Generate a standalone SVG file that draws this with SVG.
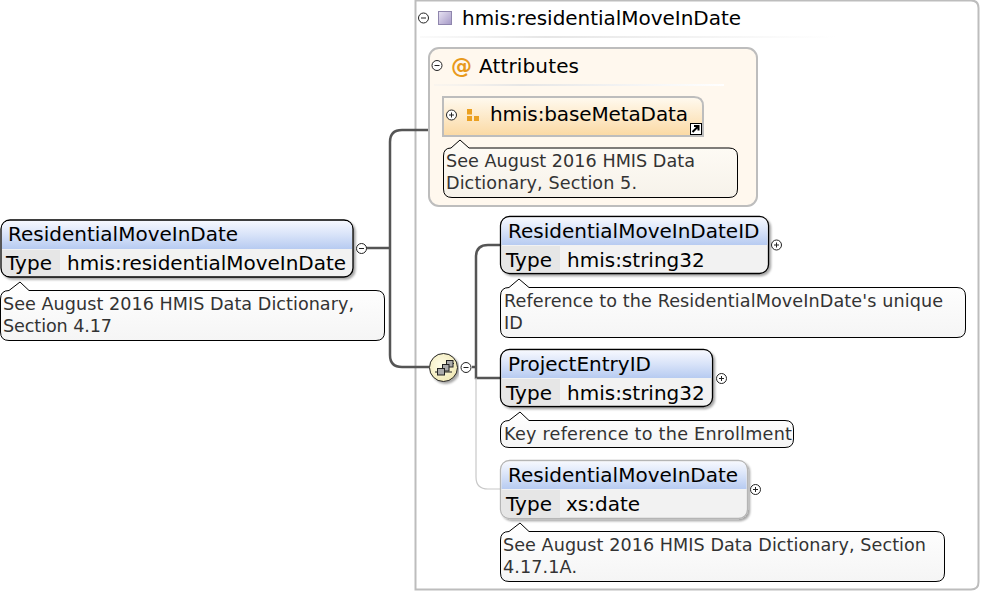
<svg xmlns="http://www.w3.org/2000/svg" width="981" height="592" viewBox="0 0 981 592">
<style>
text{font-family:"DejaVu Sans",sans-serif;white-space:pre}
.n{font-size:20px;fill:#000}
.note{font-size:17.6px;fill:#333}
.nb{fill:#fff;stroke:#000;stroke-width:1}
.con{fill:none;stroke:#555;stroke-width:2.5}
.t{fill:none;stroke:#222;stroke-width:1}
.tf{fill:#fff;stroke:#222;stroke-width:1}
</style>
<defs>
<linearGradient id="head" x1="0" y1="0" x2="0" y2="1"><stop offset="0" stop-color="#f6f8fe"/><stop offset="0.45" stop-color="#dbe5f9"/><stop offset="1" stop-color="#b7cbf1"/></linearGradient>
<linearGradient id="note" x1="0" y1="0" x2="0" y2="1"><stop offset="0" stop-color="#fff"/><stop offset="1" stop-color="#f5f5f5"/></linearGradient>
<linearGradient id="note2" x1="0" y1="0" x2="0" y2="1"><stop offset="0" stop-color="#fffcf6"/><stop offset="1" stop-color="#f6f2ea"/></linearGradient>
<linearGradient id="orange" x1="0" y1="0" x2="0" y2="1"><stop offset="0" stop-color="#fffaf0"/><stop offset="1" stop-color="#fbd9a3"/></linearGradient>
<linearGradient id="rule" x1="0" y1="0" x2="1" y2="0"><stop offset="0" stop-color="#eee" stop-opacity="0.3"/><stop offset="0.3" stop-color="#e6e6e6"/><stop offset="1" stop-color="#fff"/></linearGradient>
<linearGradient id="sq" x1="0" y1="0" x2="1" y2="1"><stop offset="0" stop-color="#e9e4f3"/><stop offset="1" stop-color="#a498c6"/></linearGradient>
<radialGradient id="comp" cx="0.4" cy="0.4" r="0.7"><stop offset="0" stop-color="#fffde8"/><stop offset="1" stop-color="#efe6b0"/></radialGradient>
<filter id="sh" x="-5%" y="-10%" width="110%" height="125%"><feDropShadow dx="2" dy="2" stdDeviation="1.2" flood-color="#000" flood-opacity="0.35"/></filter>
<g id="minus"><circle r="5" class="tf"/><path d="M-2.500 0H2.500" class="t"/></g>
<g id="plus"><circle r="5" class="tf"/><path d="M-2.500 0H2.500M0-2.500V2.500" class="t"/></g>
</defs>

<g id="frame">
<path d="M415.500 0.500H971Q978.500 0.500 978.500 8V582Q978.500 589.500 971 589.500H415.500Z" fill="#fff" stroke="#bdbdbd" stroke-width="2"/>
</g>

<g id="connectors">
<path class="con" d="M366 248H390"/>
<path class="con" d="M429 130H402Q390 130 390 142V355Q390 367 402 367H429"/>
<path class="con" d="M472 367H476"/>
<path class="con" d="M500 245H488Q476 245 476 257V378H500"/>
<path d="M476 378V477Q476 489 488 489H500" fill="none" stroke="#c8c8c8" stroke-width="1.2"/>
</g>

<g id="type-header">
<use href="#minus" x="423.500" y="18"/>
<rect x="438.500" y="11.500" width="13" height="13" fill="url(#sq)" stroke="#8f86ad"/>
<text class="n" x="462" y="24.500" textLength="279">hmis:residentialMoveInDate</text>
<rect x="420" y="36" width="415" height="2" fill="url(#rule)"/>
</g>

<g id="attributes">
<rect x="429" y="48" width="328" height="158" rx="10" fill="#fff8ee" stroke="#bdbdbd" stroke-width="2"/>
<use href="#minus" x="437" y="65.500"/>
<text x="451" y="72.500" font-size="21" font-weight="bold" fill="#e89a1c">@</text>
<text class="n" x="479" y="72.500" textLength="100">Attributes</text>
<rect x="434" y="84" width="290" height="2" fill="url(#rule)"/>
</g>

<g id="baseMetaData">
<path d="M443 97H694Q703 97 703 106V136H443Z" fill="url(#orange)" stroke="#bdbdbd" stroke-width="2"/>
<use href="#plus" x="451.500" y="115"/>
<rect x="467" y="109" width="5" height="5.500" fill="#eba020"/><rect x="467" y="116" width="5" height="5" fill="#eba020"/><rect x="474" y="116" width="5" height="5" fill="#eba020"/>
<text class="n" x="490" y="121" textLength="198">hmis:baseMetaData</text>
<rect x="690.500" y="123.500" width="11" height="11" fill="#fff" stroke="#000"/>
<path d="M692.500 132L698 126.500M694 126H698.500V130.500" fill="none" stroke="#000" stroke-width="2"/>
<path class="nb" style="fill:url(#note2)" d="M451 148L460 140L469 148H729Q737.500 148 737.500 156V189Q737.500 197.500 729 197.500H452Q443.500 197.500 443.500 189V156Q443.500 148 451 148Z"/>
<text class="note" x="446" y="167" textLength="249">See August 2016 HMIS Data</text>
<text class="note" x="446" y="189" textLength="191">Dictionary, Section 5.</text>
</g>

<g id="root-element">
<g filter="url(#sh)"><rect x="1" y="220" width="352" height="57" rx="9" fill="#f2f2f2" stroke="#000" stroke-width="1.300"/></g>
<path d="M2 249V229Q2 221 10 221H344Q352 221 352 229V249Z" fill="url(#head)"/>
<path d="M2 250H60V276H10Q2 276 2 268Z" fill="#e6e6e6"/>
<text class="n" x="8" y="241">ResidentialMoveInDate</text>
<text class="n" x="6" y="270">Type</text>
<text class="n" x="67" y="270" textLength="279">hmis:residentialMoveInDate</text>
<use href="#minus" x="361.500" y="248.500"/>
<path class="nb" style="fill:url(#note)" d="M9 290.500L20 282L29 290.500H376Q384.500 290.500 384.500 299V332Q384.500 340.500 376 340.500H9Q0.500 340.500 0.500 332V299Q0.500 290.500 9 290.500Z"/>
<text class="note" x="3" y="310" textLength="351">See August 2016 HMIS Data Dictionary,</text>
<text class="note" x="3" y="332" textLength="109">Section 4.17</text>
</g>

<g id="sequence">
<circle cx="443.500" cy="367.500" r="14" fill="url(#comp)" stroke="#222" stroke-width="1" filter="url(#sh)"/>
<path d="M435 372H452M446 363.500H454" stroke="#222" stroke-width="1" fill="none"/>
<rect x="446.500" y="360.500" width="6.500" height="6.500" fill="#aaa" stroke="#222"/><rect x="442.500" y="364.500" width="6.500" height="6.500" fill="#aaa" stroke="#222"/><rect x="437.500" y="368.500" width="7" height="6.500" fill="#aaa" stroke="#222"/>
<use href="#minus" x="466" y="367.500"/>
</g>

<g id="ResidentialMoveInDateID">
<g filter="url(#sh)"><rect x="500.500" y="216.500" width="268" height="57" rx="9" fill="#f2f2f2" stroke="#000" stroke-width="1.300"/></g>
<path d="M501.500 245V226Q501.500 217.500 510 217.500H760Q767.500 217.500 767.500 226V245Z" fill="url(#head)"/>
<path d="M501.500 246H560V272.500H510Q501.500 272.500 501.500 264Z" fill="#e6e6e6"/>
<text class="n" x="508" y="238">ResidentialMoveInDateID</text>
<text class="n" x="506" y="267">Type</text>
<text class="n" x="567" y="267">hmis:string32</text>
<use href="#plus" x="776.500" y="245"/>
<path class="nb" style="fill:url(#note)" d="M509 287.500L519 279L529 287.500H957Q965.500 287.500 965.500 296V329Q965.500 337.500 957 337.500H509Q500.500 337.500 500.500 329V296Q500.500 287.500 509 287.500Z"/>
<text class="note" x="504" y="307" textLength="439">Reference to the ResidentialMoveInDate's unique</text>
<text class="note" x="504" y="329">ID</text>
</g>

<g id="ProjectEntryID">
<g filter="url(#sh)"><rect x="500.500" y="349.500" width="212" height="57" rx="9" fill="#f2f2f2" stroke="#000" stroke-width="1.300"/></g>
<path d="M501.500 378V359Q501.500 350.500 510 350.500H704Q711.500 350.500 711.500 359V378Z" fill="url(#head)"/>
<path d="M501.500 379H560V405.500H510Q501.500 405.500 501.500 397Z" fill="#e6e6e6"/>
<text class="n" x="508" y="371">ProjectEntryID</text>
<text class="n" x="506" y="400">Type</text>
<text class="n" x="567" y="400">hmis:string32</text>
<use href="#plus" x="721.500" y="378.500"/>
<path class="nb" style="fill:url(#note)" d="M509 420.500L520 412L529 420.500H785Q793.500 420.500 793.500 429V439Q793.500 447.500 785 447.500H509Q500.500 447.500 500.500 439V429Q500.500 420.500 509 420.500Z"/>
<text class="note" x="504" y="440" textLength="288">Key reference to the Enrollment</text>
</g>

<g id="ResidentialMoveInDate-child">
<g filter="url(#sh)"><rect x="500.500" y="460.500" width="247" height="58" rx="9" fill="#f2f2f2" stroke="#b5b5b5" stroke-width="1.300"/></g>
<path d="M501.500 489V470Q501.500 461.500 510 461.500H739Q746.500 461.500 746.500 470V489Z" fill="url(#head)"/>
<path d="M501.500 490H560V517.500H510Q501.500 517.500 501.500 509Z" fill="#e6e6e6"/>
<text class="n" x="508" y="482">ResidentialMoveInDate</text>
<text class="n" x="506" y="511">Type</text>
<text class="n" x="566" y="511">xs:date</text>
<use href="#plus" x="755.500" y="489.500"/>
<path class="nb" style="fill:url(#note)" d="M509 531.500L520 523L529 531.500H936Q944.500 531.500 944.500 540V573Q944.500 581.500 936 581.500H509Q500.500 581.500 500.500 573V540Q500.500 531.500 509 531.500Z"/>
<text class="note" x="503" y="551" textLength="423">See August 2016 HMIS Data Dictionary, Section</text>
<text class="note" x="503" y="573" textLength="74">4.17.1A.</text>
</g>
</svg>
